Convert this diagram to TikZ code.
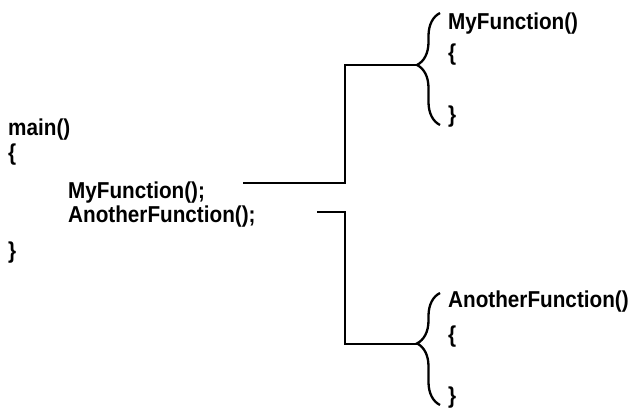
\documentclass[tikz,border=0pt]{standalone}
\usepackage{fontspec}
\setmainfont{Liberation Sans}[FakeStretch=0.9]
\usepackage{tikz}
\usetikzlibrary{decorations.pathreplacing}

\tikzset{
 code/.style={inner sep=0pt,anchor=base west,font=\fontsize{23}{23}\selectfont\bfseries},
 link/.style={line width=2.5pt},
 curly/.style={line width=2.3pt,decorate,decoration={brace,amplitude=23pt,aspect=#1}}
}

\begin{document}
\begin{tikzpicture}[x=1pt,y=1pt]
 \useasboundingbox (0,0) rectangle (634,-407);
 \node[code] (mainhead) at (8,-135) {main()};
 \node[code] (mainopen) at (8,-160) {\{};
 \node[code] (callmy) at (68,-198) {MyFunction();};
 \node[code] (callanother) at (68,-222) {AnotherFunction();};
 \node[code] (mainclose) at (8,-258) {\}};

 \node[code] (myhead) at (448,-29) {MyFunction()};
 \node[code] (myopen) at (448,-60) {\{};
 \node[code] (myclose) at (448,-122) {\}};
 \node[code] (anotherhead) at (448,-307) {AnotherFunction()};
 \node[code] (anotheropen) at (448,-342) {\{};
 \node[code] (anotherclose) at (448,-403) {\}};

 \coordinate (mystart) at (243,-183);
 \coordinate (anotherstart) at (317,-212);
 \coordinate (mytop) at (440,-13);
 \coordinate (mybottom) at (440,-125);
 \coordinate (anothertop) at (440,-293);
 \coordinate (anotherbottom) at (440,-405);
 \coordinate (mytip) at (417,-65);
 \coordinate (anothertip) at (417,-344);

 \draw[curly=0.536] (mybottom) -- (mytop);
 \draw[curly=0.55] (anotherbottom) -- (anothertop);
 \draw[link] (mystart) -| (345,-65) -- (mytip);
 \draw[link] (anotherstart) -| (345,-344) -- (anothertip);
\end{tikzpicture}
\end{document}
